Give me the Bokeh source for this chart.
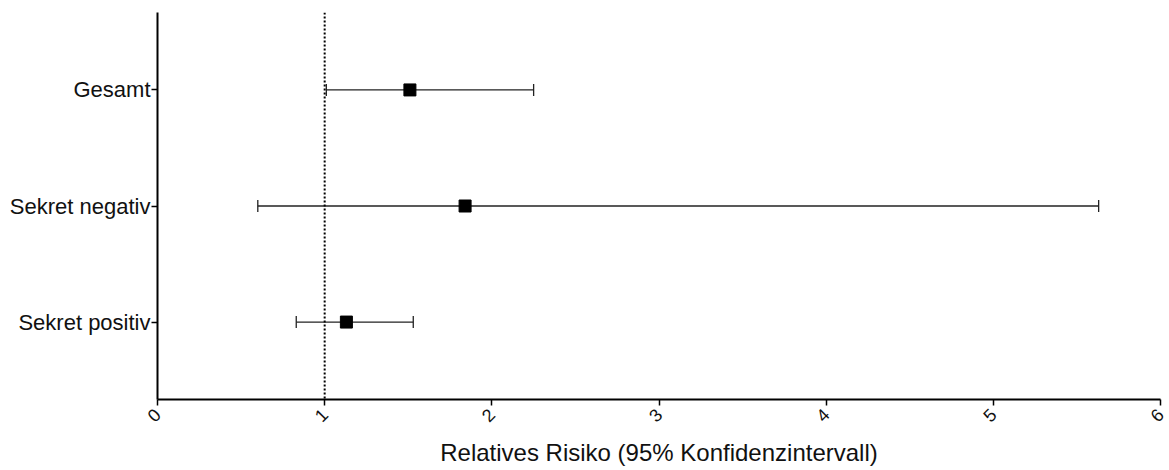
import math
from bokeh.plotting import figure
from bokeh.models import Span, Whisker, ColumnDataSource, FixedTicker, Range1d
from bokeh.embed import file_html
from bokeh.resources import INLINE

# Data
categories = ["Sekret positiv", "Sekret negativ", "Gesamt"]
rr = [1.13, 1.84, 1.51]
ci_low = [0.83, 0.60, 1.01]
ci_high = [1.53, 5.63, 2.25]
x_ticks = [0, 1, 2, 3, 4, 5, 6]
reference_value = 1.0

ypos = list(range(1, len(categories) + 1))
src = ColumnDataSource(dict(y=ypos, rr=rr, lo=ci_low, hi=ci_high, cat=categories))

FONT = "Liberation Sans"

p = figure(width=1169, height=470, output_backend="svg", toolbar_location=None,
           x_range=Range1d(0, 6), y_range=Range1d(0.333, 3.667),
           min_border_left=157, min_border_right=9, min_border_top=12, min_border_bottom=71)
p.outline_line_color = None
p.grid.grid_line_color = None
p.background_fill_color = "white"
p.border_fill_color = "white"

# reference line
p.add_layout(Span(location=reference_value, dimension="height", line_color="black",
                  line_width=2, line_dash="2 2"))

w = Whisker(source=src, base="y", lower="lo", upper="hi", dimension="width",
            line_color="#222222", line_width=1.3)
w.upper_head.size = 12
w.lower_head.size = 12
w.upper_head.line_color = "#222222"
w.lower_head.line_color = "#222222"
w.upper_head.line_width = 1.3
w.lower_head.line_width = 1.3
p.add_layout(w)

p.scatter(x="rr", y="y", source=src, marker="square", size=12, color="black")

# x axis
xa = p.xaxis[0]
xa.ticker = FixedTicker(ticks=x_ticks)
xa.major_label_orientation = math.pi / 4
xa.major_label_text_font = FONT
xa.major_label_text_font_size = "18px"
xa.major_label_text_color = "#111111"
xa.major_label_standoff = 6
xa.axis_label = "Relatives Risiko (95% Konfidenzintervall)"
xa.axis_label_text_font = FONT
xa.axis_label_text_font_size = "24px"
xa.axis_label_text_font_style = "normal"
xa.axis_label_text_color = "#111111"
xa.axis_label_standoff = 8
xa.axis_line_width = 2
xa.axis_line_color = "black"
xa.major_tick_line_width = 1.5
xa.major_tick_line_color = "black"
xa.major_tick_out = 6
xa.major_tick_in = 0
xa.minor_tick_line_color = None

# y axis
ya = p.yaxis[0]
ya.ticker = FixedTicker(ticks=ypos)
ya.major_label_overrides = {y: c for y, c in zip(ypos, categories)}
ya.major_label_text_font = FONT
ya.major_label_text_font_size = "22px"
ya.major_label_text_color = "#111111"
ya.major_label_standoff = 1
ya.axis_line_width = 2
ya.axis_line_color = "black"
ya.major_tick_line_width = 1.5
ya.major_tick_line_color = "black"
ya.major_tick_out = 6
ya.major_tick_in = 0
ya.minor_tick_line_color = None

open("out.html", "w").write(file_html(p, INLINE))
